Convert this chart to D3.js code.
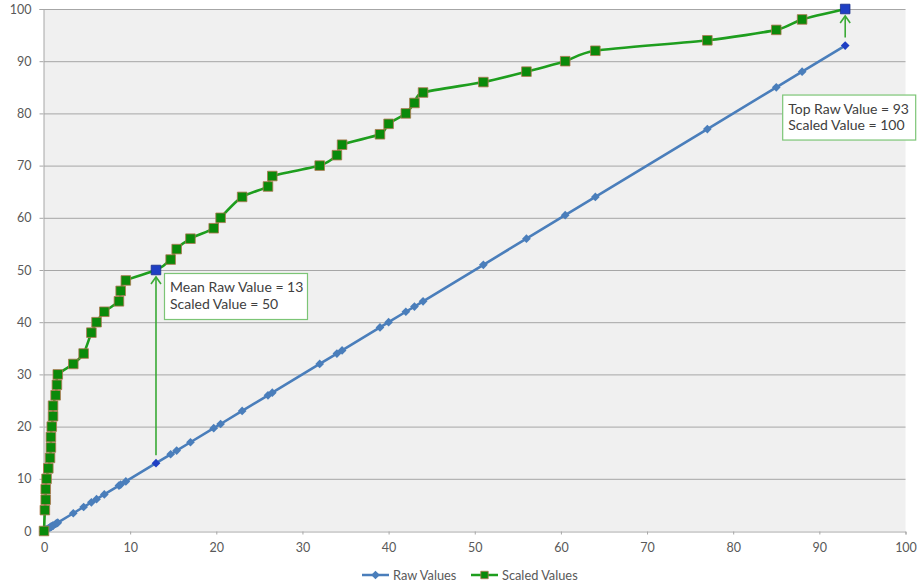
<!DOCTYPE html>
<html>
<head>
<meta charset="utf-8">
<script src="https://cdn.jsdelivr.net/npm/d3@7"></script>
<style>
  body { margin: 0; background: #ffffff; }
  svg text { font-family: Lato, "Open Sans", sans-serif; }
</style>
</head>
<body>
<svg id="chart" width="917" height="587"></svg>
<script>
// Raw scores (x) and their scaled equivalents
const rawValues = [0, 0.1, 0.2, 0.2, 0.3, 0.5, 0.7, 0.8, 0.8, 0.9, 1.05, 1.05, 1.35, 1.5, 1.6,
  3.4, 4.6, 5.5, 6.1, 7, 8.7, 8.9, 9.5, 13, 14.7, 15.4, 17, 19.7, 20.5, 23, 26, 26.5,
  32, 34, 34.6, 39, 40, 42, 43, 44, 51, 56, 60.5, 64, 77, 85, 88, 93];
const scaledValues = [0, 4, 6, 8, 10, 12, 14, 16, 18, 20, 22, 24, 26, 28, 30,
  32, 34, 38, 40, 42, 44, 46, 48, 50, 52, 54, 56, 58, 60, 64, 66, 68,
  70, 72, 74, 76, 78, 80, 82, 84, 86, 88, 90, 92, 94, 96, 98, 100];
const xTicks = [0, 10, 20, 30, 40, 50, 60, 70, 80, 90, 100];
const yTicks = [0, 10, 20, 30, 40, 50, 60, 70, 80, 90, 100];
const seriesNames = ["Raw Values", "Scaled Values"];

// Highlighted reference points
const meanRaw = 13, meanScaled = 50;
const topRaw = 93, topScaled = 100;

const svg = d3.select("#chart");
const x = d3.scaleLinear().domain([0, 100]).range([44, 905.5]);
const y = d3.scaleLinear().domain([0, 100]).range([531, 9]);

const gridColor = "#a6a6a6";
const textColor = "#595959";
const blue = "#4a7ebb";
const darkBlue = "#1f3fc4";
const green = "#1e9e1e";
const markerGreen = "#0a8a0a";
const markerEdge = "#b0764f";
const annoGreen = "#3aaa35";

// plot area
svg.append("rect")
  .attr("x", x(0)).attr("y", y(100))
  .attr("width", x(100) - x(0)).attr("height", y(0) - y(100))
  .attr("fill", "#f0f0f0");

// horizontal gridlines
svg.append("g").selectAll("line").data(yTicks.filter(d => d > 0)).join("line")
  .attr("x1", x(0)).attr("x2", x(100))
  .attr("y1", d => y(d) + 0.5).attr("y2", d => y(d) + 0.5)
  .attr("stroke", gridColor).attr("stroke-width", 1);

// axes
const xAxis = svg.append("g").attr("transform", `translate(0,${y(0) + 0.5})`)
  .call(d3.axisBottom(x).tickValues(xTicks).tickSize(3).tickPadding(9).tickFormat(d3.format("d")));
const yAxis = svg.append("g").attr("transform", `translate(${x(0) - 0.5},0)`)
  .call(d3.axisLeft(y).tickValues(yTicks).tickSize(4).tickPadding(8).tickFormat(d3.format("d")));
[xAxis, yAxis].forEach(g => {
  g.select(".domain").attr("stroke", gridColor);
  g.selectAll(".tick line").attr("stroke", gridColor);
  g.selectAll(".tick text").attr("fill", textColor).style("font-size", "12.5px")
    .style("font-family", "Lato, 'Open Sans', sans-serif");
});

const points = rawValues.map((r, i) => ({ raw: r, scaled: scaledValues[i] }));

// Raw series: each raw score against itself
svg.append("path")
  .datum(points)
  .attr("fill", "none").attr("stroke", blue).attr("stroke-width", 2.6)
  .attr("d", d3.line().x(d => x(d.raw)).y(d => y(d.raw)));

const diamond = d3.symbol().type(d3.symbolSquare).size(38);
svg.append("g").selectAll("path").data(points).join("path")
  .attr("d", diamond)
  .attr("transform", d => `translate(${x(d.raw)},${y(d.raw)}) rotate(45)`)
  .attr("fill", d => (d.raw === meanRaw || d.raw === topRaw) ? darkBlue : blue);

// Scaled series
svg.append("path")
  .datum(points)
  .attr("fill", "none").attr("stroke", green).attr("stroke-width", 2.6)
  .attr("d", d3.line().curve(d3.curveCardinal.tension(0.3)).x(d => x(d.raw)).y(d => y(d.scaled)));

const square = d3.symbol().type(d3.symbolSquare).size(92);
svg.append("g").selectAll("path").data(points).join("path")
  .attr("d", square)
  .attr("transform", d => `translate(${x(d.raw)},${y(d.scaled)})`)
  .attr("fill", d => (d.raw === meanRaw || d.raw === topRaw) ? darkBlue : markerGreen)
  .attr("stroke", d => (d.raw === meanRaw || d.raw === topRaw) ? "#1a2f8a" : markerEdge)
  .attr("stroke-width", 0.8);

// arrows from a raw score up to its scaled value
function arrow(rawV, scaledV) {
  const ax = x(rawV);
  const y0 = y(rawV) - 8, y1 = y(scaledV) + 7;
  const g = svg.append("g").attr("stroke", annoGreen).attr("stroke-width", 1.6).attr("fill", "none");
  g.append("line").attr("x1", ax).attr("x2", ax).attr("y1", y0).attr("y2", y1);
  g.append("path").attr("d", `M${ax - 5},${y1 + 7}L${ax},${y1}L${ax + 5},${y1 + 7}`);
}
arrow(meanRaw, meanScaled);
arrow(topRaw, topScaled);

// callout boxes
function callout(bx, by, w, h, lines) {
  const g = svg.append("g");
  g.append("rect").attr("x", bx + 0.5).attr("y", by + 0.5).attr("width", w).attr("height", h)
    .attr("fill", "#ffffff").attr("stroke", "#7cc576").attr("stroke-width", 1.2);
  lines.forEach((t, i) => {
    g.append("text").attr("x", bx + 6).attr("y", by + 19 + i * 16.5)
      .attr("fill", "#404040").style("font-size", "14px").text(t);
  });
}
callout(x(meanRaw) + 8, y(meanScaled) + 3, 143, 46,
  [`Mean Raw Value = ${meanRaw}`, `Scaled Value = ${meanScaled}`]);
callout(x(topRaw) - 63, y(topRaw) + 49, 133, 45,
  [`Top Raw Value = ${topRaw}`, `Scaled Value = ${topScaled}`]);

// legend
const legend = svg.append("g").attr("transform", "translate(0,575)");
const l1 = legend.append("g").attr("transform", "translate(362,0)");
l1.append("line").attr("x1", 0).attr("x2", 27).attr("stroke", blue).attr("stroke-width", 2.5);
l1.append("path").attr("d", diamond).attr("transform", "translate(13.5,0) rotate(45)").attr("fill", blue);
l1.append("text").attr("x", 31).attr("y", 4.5).attr("fill", textColor).style("font-size", "12.8px").text(seriesNames[0]);
const l2 = legend.append("g").attr("transform", "translate(471,0)");
l2.append("line").attr("x1", 0).attr("x2", 27).attr("stroke", green).attr("stroke-width", 2.5);
l2.append("path").attr("d", d3.symbol().type(d3.symbolSquare).size(55)).attr("transform", "translate(13.5,0)")
  .attr("fill", markerGreen).attr("stroke", markerEdge).attr("stroke-width", 0.8);
l2.append("text").attr("x", 31).attr("y", 4.5).attr("fill", textColor).style("font-size", "12.8px").text(seriesNames[1]);
</script>
</body>
</html>
